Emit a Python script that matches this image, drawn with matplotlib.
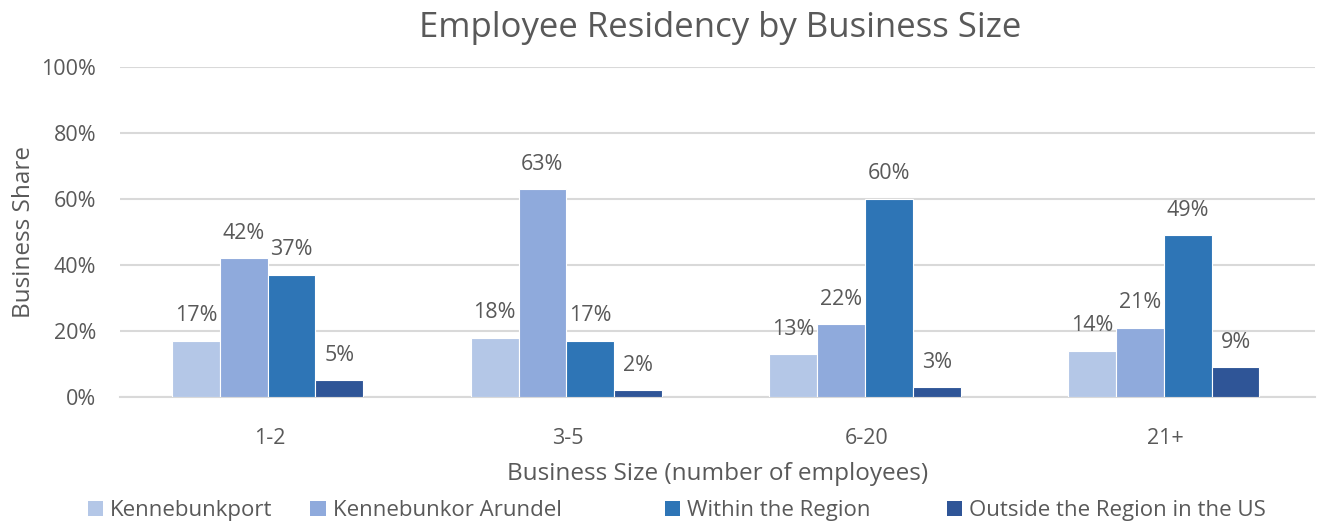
import matplotlib
matplotlib.use("Agg")
import matplotlib.pyplot as plt
from matplotlib.patches import Patch
import numpy as np

plt.rcParams['font.family'] = ['Open Sans', 'DejaVu Sans']

categories = ["1-2", "3-5", "6-20", "21+"]
series_names = ["Kennebunkport", "Kennebunkor Arundel", "Within the Region",
                "Outside the Region in the US"]
kennebunkport = [17, 18, 13, 14]
kennebunk_arundel = [42, 63, 22, 21]
within_region = [37, 17, 60, 49]
outside_region = [5, 2, 3, 9]
yticks = [0, 20, 40, 60, 80, 100]

series = [kennebunkport, kennebunk_arundel, within_region, outside_region]
colors = ["#B4C7E7", "#8FAADC", "#2E75B6", "#2F5597"]
text_color = "#595959"
grid_color = "#D9D9D9"

fig = plt.figure(figsize=(13.17, 5.31), dpi=100)
ax = fig.add_axes([0.0911, 0.2524, 0.9074, 0.6214])

x = np.arange(len(categories))
width = 0.16
offsets = (np.arange(len(series)) - 1.5) * width - 0.006

for vals, off, col, name in zip(series, offsets, colors, series_names):
    bars = ax.bar(x + off, vals, width, color=col, edgecolor="white",
                  linewidth=0.8, label=name, zorder=3)
    for b, v in zip(bars, vals):
        ax.annotate(f"{v}%", (b.get_x() + b.get_width() / 2, v),
                    xytext=(0, 18), textcoords="offset points",
                    ha="center", va="center", fontsize=15.5, color=text_color)

ax.set_xlim(-0.5, len(categories) - 0.5)
ax.set_ylim(0, 100)
ax.set_yticks(yticks)
ax.set_yticklabels([f"{t}%" for t in yticks])
ax.set_xticks(x)
ax.set_xticklabels(categories)
ax.yaxis.grid(True, color=grid_color, linewidth=1.5, zorder=0)
ax.set_axisbelow(True)
for s in ["top", "right", "left"]:
    ax.spines[s].set_visible(False)
ax.spines["bottom"].set_color(grid_color)
ax.spines["bottom"].set_linewidth(1.5)
ax.tick_params(axis="both", length=0, labelsize=15.5, colors=text_color)
ax.tick_params(axis="y", pad=17)
ax.tick_params(axis="x", pad=22)

ax.set_ylabel("Business Share", fontsize=17.5, color=text_color, labelpad=4)
ax.set_xlabel("Business Size (number of employees)", fontsize=17.5,
              color=text_color, labelpad=10)
fig.text(0.547, 0.948, "Employee Residency by Business Size", fontsize=25,
         color=text_color, ha="center", va="center")

legend_x = [0.060, 0.229, 0.498, 0.712]
for name, col, lx in zip(series_names, colors, legend_x):
    fig.legend(handles=[Patch(facecolor=col, edgecolor="none")], labels=[name],
               loc="center left", bbox_to_anchor=(lx, 0.038), frameon=False,
               fontsize=16, handlelength=0.7, handleheight=0.7,
               handletextpad=0.3, labelcolor=text_color, borderaxespad=0)

fig.savefig("out.png", dpi=100)
